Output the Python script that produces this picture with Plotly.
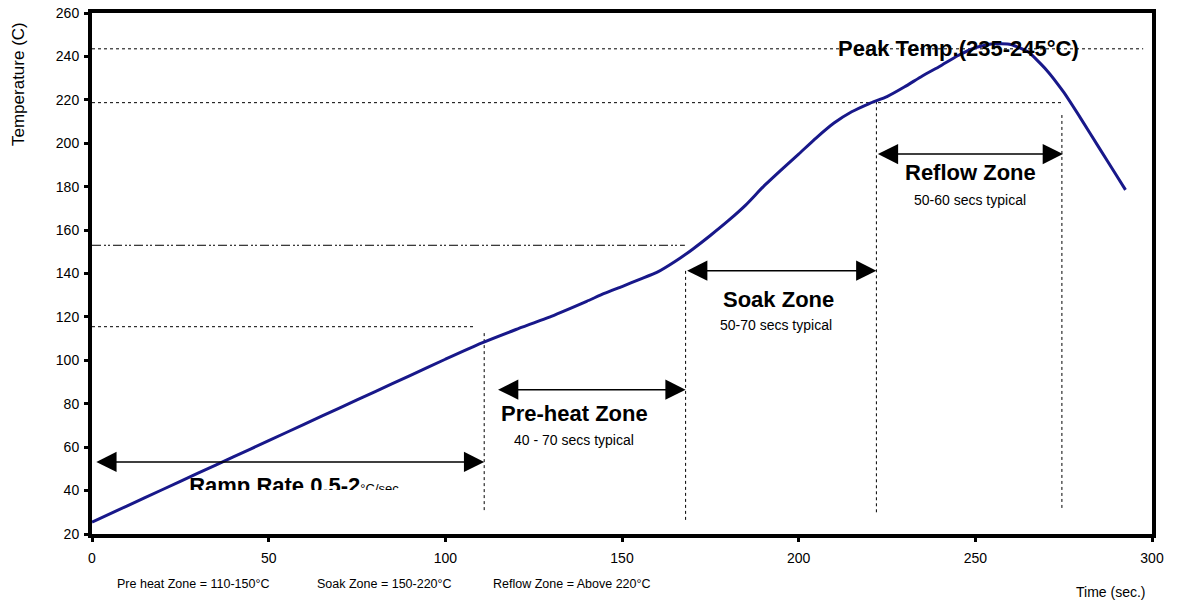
import plotly.graph_objects as go

# Reflow soldering temperature profile
time_s = [0, 10, 20, 30, 40, 50, 60, 70, 80, 90, 100, 110, 120, 130, 140, 145, 150, 155,
          160, 165, 170, 175, 180, 185, 190, 195, 200, 205, 210, 215, 220, 225,
          230, 235, 240, 245, 250, 255, 260, 265, 270, 275, 280, 285, 290, 292.5]
temp_c = [25.5, 33, 40.5, 48, 55.5, 63, 70.5, 78, 85.5, 93, 100.5, 107.8, 114.2, 120.3,
          127.2, 130.8, 134, 137.3, 140.6, 145.5, 151.2, 157.5, 164.2, 171.5, 180, 187.6,
          195, 202.5, 209.3, 214.5, 218.3, 221.5, 226, 231, 235.5, 240.3, 244, 245.8, 245.5,
          242, 234, 223.5, 211, 198, 185, 178.5]

# Zone boundaries on the time axis (sec)
zone_edges = [111, 168, 222, 274.5]
# Temperature guide levels (C)
peak_level = 243.5
reflow_level = 218.7
soak_level = 153
preheat_level = 115.5

# Double-headed zone arrows: (start, end, temperature)
arrow_spans = [(0.8, 111, 53.2), (114.5, 168, 86.5), (168, 222, 141.3), (222, 274.8, 195)]

zone_titles = ["Pre-heat Zone", "Soak Zone", "Reflow Zone"]
zone_notes = ["40 - 70 secs typical", "50-70 secs typical", "50-60 secs typical"]
zone_title_pos = [(136.5, 75.5), (194.2, 128.2), (248.5, 186.5)]
zone_note_pos = [(136.5, 63.5), (193.5, 116.5), (248.5, 174)]

x_ticks = [0, 50, 100, 150, 200, 250, 300]
y_ticks = [20, 40, 60, 80, 100, 120, 140, 160, 180, 200, 220, 240, 260]

FONT = "Liberation Sans, Arial, sans-serif"

fig = go.Figure()

fig.add_trace(go.Scatter(
    x=time_s, y=temp_c, mode="lines",
    line=dict(color="#18188a", width=3, shape="spline", smoothing=0.5),
    hoverinfo="skip", showlegend=False,
))

# Ramp rate label (lower part hidden by a white band)
fig.add_trace(go.Scatter(
    x=[27.5], y=[41.4], mode="text",
    text=["<b>Ramp Rate 0.5-2</b><span style='font-size:13px'>°C/sec</span>"],
    textposition="middle right",
    textfont=dict(family=FONT, size=22, color="black"),
    hoverinfo="skip", showlegend=False,
))

shapes = []
dot = dict(color="black", width=1, dash="dot")
shapes.append(dict(type="line", xref="x", yref="y", x0=0, x1=297.5, y0=peak_level, y1=peak_level, line=dot, layer="below"))
shapes.append(dict(type="line", xref="x", yref="y", x0=0, x1=274.8, y0=reflow_level, y1=reflow_level, line=dot, layer="below"))
shapes.append(dict(type="line", xref="x", yref="y", x0=0, x1=167.8, y0=soak_level, y1=soak_level,
                   line=dict(color="black", width=1, dash="9px,3px,2px,2px,2px,3px"), layer="below"))
shapes.append(dict(type="line", xref="x", yref="y", x0=0, x1=108.4, y0=preheat_level, y1=preheat_level, line=dot, layer="below"))

vert_tops = [112.6, 142.5, 219, 213]
vert_bottoms = [31, 26.5, 30, 32]
for xe, yt, yb in zip(zone_edges, vert_tops, vert_bottoms):
    shapes.append(dict(type="line", xref="x", yref="y", x0=xe, x1=xe, y0=yb, y1=yt, line=dot, layer="below"))

shapes.append(dict(type="rect", xref="x", yref="y", x0=26, x1=100, y0=22, y1=40.3,
                   fillcolor="white", line=dict(width=0), layer="above"))

annotations = []
for x0, x1, yv in arrow_spans:
    annotations.append(dict(
        x=x1, y=yv, ax=x0, ay=yv, xref="x", yref="y", axref="x", ayref="y",
        text="", showarrow=True, arrowhead=2, startarrowhead=2, arrowside="end+start",
        arrowsize=2.7, startarrowsize=2.7, arrowwidth=1.5, arrowcolor="black",
        standoff=0, startstandoff=0,
    ))

for t, (xx, yy) in zip(zone_titles, zone_title_pos):
    annotations.append(dict(x=xx, y=yy, xref="x", yref="y", text=f"<b>{t}</b>", showarrow=False,
                            font=dict(family=FONT, size=22, color="black")))
for t, (xx, yy) in zip(zone_notes, zone_note_pos):
    annotations.append(dict(x=xx, y=yy, xref="x", yref="y", text=t, showarrow=False,
                            font=dict(family=FONT, size=14, color="black")))

annotations.append(dict(x=245.3, y=peak_level, xref="x", yref="y", text="<b>Peak Temp.(235-245°C)</b>",
                        showarrow=False, font=dict(family=FONT, size=22, color="black")))

# Zone temperature key below the axis
key_items = [(6.5, "Pre heat Zone = 110-150°C"), (63, "Soak Zone = 150-220°C"), (113, "Reflow Zone = Above 220°C")]
for xx, t in key_items:
    annotations.append(dict(x=xx, y=0, xref="x", yref="paper", yanchor="middle", xanchor="left",
                            yshift=-50, text=t, showarrow=False,
                            font=dict(family=FONT, size=12.5, color="black")))

annotations.append(dict(x=1, y=0, xref="paper", yref="paper", xanchor="right", yanchor="middle",
                        xshift=-5, yshift=-58, text="Time (sec.)", showarrow=False,
                        font=dict(family=FONT, size=14, color="black")))
annotations.append(dict(x=0, y=1, xref="paper", yref="paper", xanchor="center", yanchor="middle",
                        xshift=-74, yshift=-71, text="Temperature (C)", textangle=-90, showarrow=False,
                        font=dict(family=FONT, size=17, color="black")))

axis_common = dict(
    showgrid=False, zeroline=False, showline=True, linecolor="black", linewidth=4, mirror=True,
    ticks="outside", ticklen=4, tickwidth=3, tickcolor="black", automargin=False,
    tickfont=dict(family=FONT, size=14, color="black"),
)

fig.update_layout(
    width=1187, height=602,
    margin=dict(l=92, r=35, t=13, b=68, autoexpand=False),
    paper_bgcolor="white", plot_bgcolor="white",
    shapes=shapes, annotations=annotations,
    xaxis=dict(range=[0, 300], tickvals=x_ticks, ticklabelstandoff=4, **axis_common),
    yaxis=dict(range=[20, 260], tickvals=y_ticks, ticklabelstandoff=2, **axis_common),
    showlegend=False,
)

fig.write_html("out.html")
